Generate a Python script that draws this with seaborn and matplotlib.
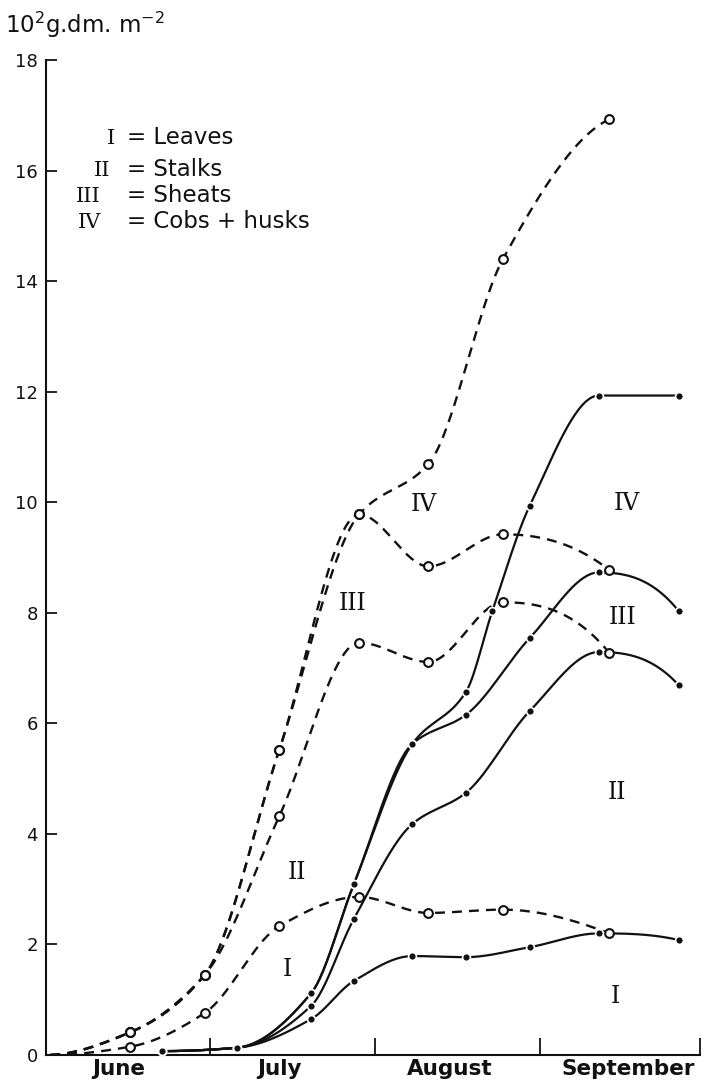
import numpy as np
import matplotlib
matplotlib.use("Agg")
import matplotlib.pyplot as plt
import seaborn as sns

# ---------------- data (x = days since 1 June) ----------------
dashed_days = [0, 15, 29, 43, 58, 71, 85, 105]
dashed_I = [0.0, 0.15, 0.76, 2.33, 2.86, 2.57, 2.63, 2.20]
dashed_II = [0.0, 0.41, 1.45, 4.32, 7.46, 7.11, 8.19, 7.27]
dashed_III = [0.0, 0.41, 1.45, 5.52, 9.78, 8.84, 9.42, 8.77]
dashed_IV = [0.0, 0.41, 1.45, 5.52, 9.78, 10.69, 14.40, 16.93]

nan = np.nan
solid_days = [21, 35, 49, 57, 68, 78, 83, 90, 103, 118]
solid_I = [0.07, 0.13, 0.65, 1.34, 1.79, 1.77, nan, 1.95, 2.20, 2.08]
solid_II = [0.07, 0.13, 0.89, 2.46, 4.18, 4.74, nan, 6.22, 7.29, 6.69]
solid_III = [0.07, 0.13, 1.12, 3.09, 5.63, 6.15, nan, 7.54, 8.73, 8.03]
solid_IV = [0.07, 0.13, 1.12, 3.09, 5.63, 6.56, 8.03, 9.93, 11.93, 11.93]

month_labels = ["June", "July", "August", "September"]
month_label_pos = [12.8, 43.0, 75.0, 108.5]
month_bounds = [30, 61, 92, 122]
y_ticks = [0, 2, 4, 6, 8, 10, 12, 14, 16, 18]

area_text = ["I", "II", "III", "IV", "I", "II", "III", "IV"]
area_x = [44.6, 46.3, 56.8, 70.1, 106.2, 106.5, 107.5, 108.2]
area_y = [1.54, 3.31, 8.17, 9.95, 1.05, 4.74, 7.92, 9.98]

legend_num = ["I", "II", "III", "IV"]
legend_name = ["Leaves", "Stalks", "Sheats", "Cobs + husks"]

# ---------------- helpers ----------------
def pchip(x, y, n=300):
    x = np.asarray(x, float)
    y = np.asarray(y, float)
    ok = ~np.isnan(y)
    x, y = x[ok], y[ok]
    h = np.diff(x)
    d = np.diff(y) / h
    m = np.zeros_like(y)
    for k in range(1, len(x) - 1):
        if d[k - 1] * d[k] > 0:
            w1 = 2 * h[k] + h[k - 1]
            w2 = h[k] + 2 * h[k - 1]
            m[k] = (w1 + w2) / (w1 / d[k - 1] + w2 / d[k])
    def endslope(h0, h1, d0, d1):
        s = ((2 * h0 + h1) * d0 - h0 * d1) / (h0 + h1)
        if np.sign(s) != np.sign(d0):
            s = 0.0
        elif np.sign(d0) != np.sign(d1) and abs(s) > abs(3 * d0):
            s = 3 * d0
        return s
    if len(x) > 2:
        m[0] = endslope(h[0], h[1], d[0], d[1])
        m[-1] = endslope(h[-1], h[-2], d[-1], d[-2])
    else:
        m[:] = d[0]
    xs = np.linspace(x[0], x[-1], n)
    idx = np.clip(np.searchsorted(x, xs, side="right") - 1, 0, len(x) - 2)
    t = (xs - x[idx]) / h[idx]
    h00 = 2 * t**3 - 3 * t**2 + 1
    h10 = t**3 - 2 * t**2 + t
    h01 = -2 * t**3 + 3 * t**2
    h11 = t**3 - t**2
    ys = h00 * y[idx] + h10 * h[idx] * m[idx] + h01 * y[idx + 1] + h11 * h[idx] * m[idx + 1]
    return xs, ys

# ---------------- figure ----------------
sns.set_style("ticks")
plt.rcParams["font.family"] = ["DejaVu Sans"]
W, H = 705, 1087
fig = plt.figure(figsize=(W / 100, H / 100), dpi=100)
ax = fig.add_axes([46 / W, 32 / H, (700 - 46) / W, (1055 - 60) / H])

ink = "#111111"

# dashed series (open circles)
for ys in [dashed_I, dashed_II, dashed_III, dashed_IV]:
    sx, sy = pchip(dashed_days, ys)
    sns.lineplot(x=sx, y=sy, ax=ax, color=ink, linewidth=1.7, sort=False,
                 estimator=None)
    ax.lines[-1].set_dashes((4.2, 3.0))
for ys in [dashed_I, dashed_II, dashed_III, dashed_IV]:
    sns.scatterplot(x=dashed_days[1:], y=ys[1:], ax=ax, marker="o", s=40,
                    facecolor="white", edgecolor=ink, linewidth=1.5, zorder=5)

# solid series (filled dots)
for ys in [solid_I, solid_II, solid_III, solid_IV]:
    sx, sy = pchip(solid_days, ys)
    sns.lineplot(x=sx, y=sy, ax=ax, color=ink, linewidth=1.6, sort=False,
                 estimator=None)
for ys in [solid_I, solid_II, solid_III, solid_IV]:
    sns.scatterplot(x=solid_days, y=ys, ax=ax, marker="o", s=32,
                    color=ink, edgecolor="white", linewidth=1.2, zorder=6)

# area labels
for t, xx, yy in zip(area_text, area_x, area_y):
    ax.text(xx, yy, t, family="DejaVu Serif", fontsize=17, ha="center",
            va="center", color=ink)

# axes styling
ax.set_xlim(-0.8, 122)
ax.set_ylim(0, 18)
sns.despine(ax=ax)
for side in ["left", "bottom"]:
    ax.spines[side].set_linewidth(1.5)
    ax.spines[side].set_color(ink)

ax.set_yticks(y_ticks)
ax.set_yticklabels([str(v) for v in y_ticks])
ax.tick_params(axis="y", which="major", direction="in", length=8, width=1.3,
               labelsize=13, pad=6, colors=ink)

ax.set_xticks(month_bounds)
ax.set_xticklabels([""] * len(month_bounds))
ax.set_xticks(month_label_pos, minor=True)
ax.set_xticklabels(month_labels, minor=True, fontsize=15.5, fontweight="bold")
ax.tick_params(axis="x", which="major", direction="in", length=12, width=1.3,
               colors=ink)
ax.tick_params(axis="x", which="minor", length=0, pad=3, colors=ink)
ax.set_xlabel("")
ax.set_ylabel("")

# unit label
fig.text(5 / W, 1 - 25 / H, r"10$^{2}$g.dm. m$^{-2}$", fontsize=16.5,
         va="center", ha="left", color=ink)

# legend
num_right = [115, 110, 101, 101]
row_y = [138, 170, 196, 222]
for num, name, xr, yy in zip(legend_num, legend_name, num_right, row_y):
    fig.text(xr / W, 1 - yy / H, num, family="DejaVu Serif", fontsize=15,
             ha="right", va="center", color=ink)
    fig.text(127 / W, 1 - yy / H, "= " + name, fontsize=16.5, ha="left",
             va="center", color=ink)

fig.savefig("out.png", dpi=100, facecolor="white")
